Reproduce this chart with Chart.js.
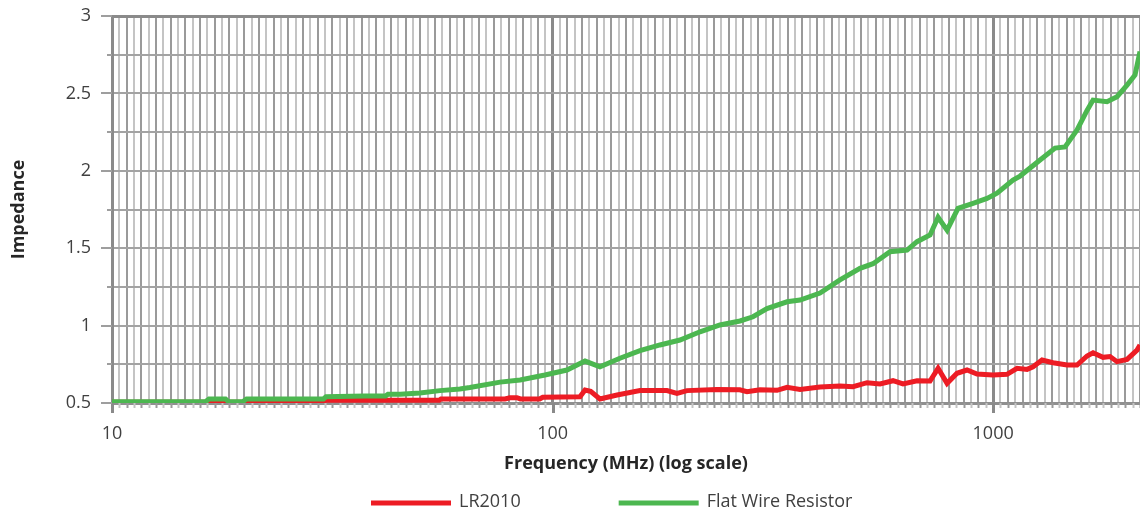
<!DOCTYPE html>
<html>
<head>
<meta charset="utf-8">
<script src="https://cdn.jsdelivr.net/npm/chart.js@4.4.1/dist/chart.umd.min.js"></script>
<style>
  html, body { margin: 0; padding: 0; background: #ffffff; }
  #wrap { width: 1140px; height: 511px; }
</style>
</head>
<body>
<div id="wrap"><canvas id="c" width="1140" height="511"></canvas></div>
<script>
// Impedance vs frequency for two resistor types
const seriesNames = ['LR2010', 'Flat Wire Resistor'];

// LR2010 sweep: frequency (MHz) and impedance
const freqLR = [10, 30.0, 30.6, 55.3, 55.8, 78, 80, 83, 84.5, 93.5,
  95, 115.4, 118.5, 122, 128.1, 140.1, 157.9, 181.8, 191.6, 201.9,
  236.1, 266, 276.3, 295.7, 323.2, 340.6, 364.5, 404.6, 449.1, 480.8,
  517.3, 553.7, 592.6, 624.4, 671.8, 719.1, 749.9, 786, 827.9, 872.4,
  919.2, 999.3, 1075.3, 1133, 1193.9, 1231.9, 1291.2, 1367.7, 1471.5, 1550.4,
  1633.6, 1685.5, 1775.9, 1842.1, 1910.8, 2013.4, 2121.4, 2154.4];
const impLR = [0.505, 0.505, 0.518, 0.518, 0.526, 0.526, 0.534, 0.534, 0.526, 0.526,
  0.537, 0.54, 0.584, 0.575, 0.526, 0.552, 0.58, 0.58, 0.562, 0.58,
  0.588, 0.585, 0.573, 0.586, 0.582, 0.601, 0.588, 0.603, 0.61, 0.605,
  0.631, 0.623, 0.644, 0.623, 0.644, 0.642, 0.724, 0.627, 0.692, 0.713,
  0.687, 0.681, 0.685, 0.724, 0.717, 0.734, 0.778, 0.76, 0.745, 0.745,
  0.804, 0.825, 0.795, 0.80, 0.767, 0.782, 0.842, 0.875];

// Flat wire resistor sweep: frequency (MHz) and impedance
const freqFW = [10, 16.3, 16.6, 18.1, 18.4, 19.8, 20.2, 30.2, 30.6, 37.5,
  41.8, 42.3, 45.1, 50, 55.5, 61.6, 64.9, 76, 84.4, 96.1,
  107.8, 118.5, 128.1, 142.2, 157.9, 175.3, 194.6, 216.1, 239.9, 266.3,
  285.1, 306.7, 340.6, 364.5, 404.6, 449.1, 498.7, 533.8, 583.4, 637.6,
  671.8, 719.1, 749.9, 786, 832.2, 900.2, 968.5, 1020.5, 1109.5, 1151,
  1277.8, 1382, 1456.2, 1494.7, 1550.4, 1633.6, 1685.5, 1813.5, 1910.8, 2013.4,
  2099.1, 2154.4];
const impFW = [0.508, 0.508, 0.526, 0.526, 0.508, 0.508, 0.526, 0.526, 0.54, 0.545,
  0.545, 0.556, 0.556, 0.565, 0.58, 0.59, 0.6, 0.635, 0.649, 0.681,
  0.713, 0.771, 0.734, 0.789, 0.838, 0.875, 0.907, 0.96, 1.004, 1.03,
  1.057, 1.11, 1.154, 1.165, 1.21, 1.295, 1.37, 1.40, 1.477, 1.488,
  1.542, 1.585, 1.70, 1.617, 1.758, 1.79, 1.822, 1.855, 1.94, 1.966,
  2.07, 2.147, 2.154, 2.2, 2.264, 2.39, 2.457, 2.446, 2.479, 2.554,
  2.619, 2.77];

// Axis labels
const xTickLabels = [10, 100, 1000];
const yTickLabels = [0.5, 1, 1.5, 2, 2.5, 3];

const X_MIN = 10;
const STEPS_PER_DECADE = 60;   // evenly spaced vertical grid lines
const X_STEPS = 140;
const X_MAX = Math.pow(10, 1 + X_STEPS / STEPS_PER_DECADE);

const isXLabel = v => xTickLabels.some(t => Math.abs(t - v) / t < 1e-9);
const isYLabel = v => yTickLabels.some(t => Math.abs(t - v) < 1e-9);

const toPoints = (xs, ys) => xs.map((x, i) => ({ x, y: ys[i] }));

const FONT = '"Open Sans", "Liberation Sans", sans-serif';
const TEXT = '#404040';
const CLEAR = 'rgba(0,0,0,0)';

// Short tick marks outside the plot; labelled ticks are longer
const tickMarks = {
  id: 'tickMarks',
  afterDraw(chart) {
    const { ctx, chartArea } = chart;
    const xs = chart.scales.x, ys = chart.scales.y;
    ctx.save();
    xs.ticks.forEach((t, i) => {
      const px = Math.round(xs.getPixelForValue(t.value)) + 0.5;
      const major = isXLabel(t.value);
      ctx.strokeStyle = major ? '#8a8a8a' : (i % 2 === 0 ? '#9a9a9a' : '#c4c4c4');
      ctx.lineWidth = major ? 3 : 2;
      ctx.beginPath();
      ctx.moveTo(px, chartArea.bottom);
      ctx.lineTo(px, chartArea.bottom + (major ? 10 : 5));
      ctx.stroke();
    });
    ys.ticks.forEach(t => {
      const py = Math.round(ys.getPixelForValue(t.value));
      const major = isYLabel(t.value);
      ctx.strokeStyle = '#9e9e9e';
      ctx.lineWidth = 2;
      ctx.beginPath();
      ctx.moveTo(chartArea.left - (major ? 11 : 5), py);
      ctx.lineTo(chartArea.left, py);
      ctx.stroke();
    });
    ctx.restore();
  }
};

// Line-sample legend under the axis title
const lineLegend = {
  id: 'lineLegend',
  afterDraw(chart) {
    const { ctx, chartArea } = chart;
    const y = 503;
    let x = chartArea.left + 259;
    ctx.save();
    ctx.font = '18px ' + FONT;
    ctx.textBaseline = 'middle';
    chart.data.datasets.forEach(ds => {
      ctx.strokeStyle = ds.borderColor;
      ctx.lineWidth = 5;
      ctx.beginPath();
      ctx.moveTo(x, y);
      ctx.lineTo(x + 80, y);
      ctx.stroke();
      ctx.fillStyle = TEXT;
      ctx.fillText(ds.label, x + 88, y - 1);
      x += 88 + ctx.measureText(ds.label).width + 98;
    });
    ctx.restore();
  }
};

new Chart(document.getElementById('c'), {
  type: 'line',
  data: {
    datasets: [
      {
        label: seriesNames[0],
        data: toPoints(freqLR, impLR),
        borderColor: '#ED1C24',
        borderWidth: 5,
        pointRadius: 0,
        tension: 0,
        order: 1
      },
      {
        label: seriesNames[1],
        data: toPoints(freqFW, impFW),
        borderColor: '#4CB750',
        borderWidth: 5,
        pointRadius: 0,
        tension: 0,
        order: 0
      }
    ]
  },
  options: {
    responsive: false,
    animation: false,
    devicePixelRatio: 1,
    layout: { padding: { top: 16, right: 0, bottom: 0, left: 0 } },
    plugins: {
      legend: { display: false },
      tooltip: { enabled: false }
    },
    scales: {
      x: {
        type: 'logarithmic',
        min: X_MIN,
        max: X_MAX,
        afterBuildTicks(scale) {
          const ticks = [];
          for (let k = 0; k <= X_STEPS; k++) {
            ticks.push({ value: Math.pow(10, 1 + k / STEPS_PER_DECADE) });
          }
          scale.ticks = ticks;
        },
        afterFit(scale) { scale.height = 108; },
        ticks: {
          autoSkip: false,
          maxRotation: 0,
          minRotation: 0,
          padding: 0,
          color: TEXT,
          font: { family: FONT, size: 18 },
          callback: (value) => {
            const t = xTickLabels.find(v => Math.abs(v - value) / v < 1e-9);
            return t !== undefined ? String(t) : '';
          }
        },
        grid: {
          drawTicks: true,
          tickLength: 20,
          tickColor: CLEAR,
          color: ctx => {
            if (ctx.tick && isXLabel(ctx.tick.value)) return '#8a8a8a';
            return ctx.index % 2 === 0 ? '#9a9a9a' : '#c4c4c4';
          },
          lineWidth: ctx => (ctx.tick && isXLabel(ctx.tick.value) ? 3 : 2)
        },
        border: { display: true, color: '#8f8f8f', width: 3 },
        title: {
          display: true,
          text: 'Frequency (MHz) (log scale)',
          color: '#262626',
          font: { family: FONT, size: 18, weight: 'bold' },
          padding: { top: 0, bottom: 36 }
        }
      },
      y: {
        type: 'linear',
        min: 0.5,
        max: 3,
        afterFit(scale) { scale.width = 112; },
        ticks: {
          stepSize: 0.25,
          padding: 0,
          color: TEXT,
          font: { family: FONT, size: 18 },
          callback: (value) => (isYLabel(value) ? String(value) : '')
        },
        grid: {
          drawTicks: true,
          tickLength: 21,
          tickColor: CLEAR,
          color: ctx => (ctx.tick && ctx.tick.value === 3 ? '#8a8a8a' : '#a3a3a3'),
          lineWidth: ctx => (ctx.tick && ctx.tick.value === 3 ? 3 : 2)
        },
        border: { display: true, color: '#8a8a8a', width: 3 },
        title: {
          display: true,
          text: 'Impedance',
          color: '#262626',
          font: { family: FONT, size: 18, weight: 'bold' },
          padding: { top: 8, bottom: 0 }
        }
      }
    }
  },
  plugins: [tickMarks, lineLegend]
});
</script>
</body>
</html>
